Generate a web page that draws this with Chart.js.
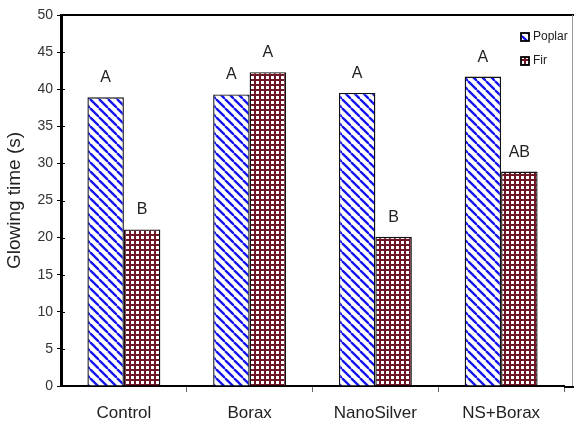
<!DOCTYPE html>
<html lang="en">
<head>
  <meta charset="UTF-8">
  <title>Glowing time</title>
  <script src="https://cdn.jsdelivr.net/npm/chart.js"></script>
  <style>
    html, body { margin: 0; padding: 0; background: #fff; }
  </style>
</head>
<body>
  <canvas id="glowChart" width="574" height="427"></canvas>

  <script>
    // data
    const treatments = ['Control', 'Borax', 'NanoSilver', 'NS+Borax'];
    const poplar = [38.9, 39.3, 39.5, 41.7];
    const fir = [21.1, 42.3, 20.1, 28.9];
    const poplarLetters = ['A', 'A', 'A', 'A'];
    const firLetters = ['B', 'A', 'B', 'AB'];
    const yTicks = [0, 5, 10, 15, 20, 25, 30, 35, 40, 45, 50];

    const FONT = '"Liberation Sans", Arial, sans-serif';

    // hatch fills
    function stripePattern() {
      const s = 9;
      const c = document.createElement('canvas');
      c.width = s; c.height = s;
      const g = c.getContext('2d');
      g.fillStyle = '#fff';
      g.fillRect(0, 0, s, s);
      g.strokeStyle = '#1414f0';
      g.lineWidth = 2.3;
      for (const k of [-s, 0, s]) {
        g.beginPath();
        g.moveTo(k, 0);
        g.lineTo(k + s, s);
        g.stroke();
      }
      return g.createPattern(c, 'repeat');
    }

    function gridPattern() {
      const c = document.createElement('canvas');
      c.width = 5; c.height = 5;
      const g = c.getContext('2d');
      g.fillStyle = '#6e1626';
      g.fillRect(0, 0, 5, 5);
      g.fillStyle = '#fff';
      g.fillRect(1, 1, 3, 3);
      return g.createPattern(c, 'repeat');
    }

    const poplarFill = stripePattern();
    const firFill = gridPattern();

    // letters above bars, legend box and the rest of the frame
    const extras = {
      id: 'extras',
      afterDatasetsDraw(chart) {
        const ctx = chart.ctx;
        const area = chart.chartArea;
        const yScale = chart.scales.y;
        ctx.save();
        ctx.fillStyle = '#222';
        ctx.font = '16px ' + FONT;
        ctx.textAlign = 'center';
        ctx.textBaseline = 'alphabetic';
        const letters = [poplarLetters, firLetters];
        chart.data.datasets.forEach((ds, i) => {
          chart.getDatasetMeta(i).data.forEach((bar, j) => {
            ctx.fillText(letters[i][j], bar.x, bar.y - 15);
          });
        });

        // inner half of the y tick crosses
        ctx.strokeStyle = '#000';
        ctx.lineWidth = 1;
        yTicks.forEach(v => {
          const y = Math.round(yScale.getPixelForValue(v)) + 0.5;
          ctx.beginPath();
          ctx.moveTo(area.left, y);
          ctx.lineTo(area.left + 4, y);
          ctx.stroke();
        });

        // frame: top edge, right edge, axis run-out
        ctx.lineWidth = 2;
        ctx.beginPath();
        ctx.moveTo(area.left - 1, area.top);
        ctx.lineTo(chart.width, area.top);
        ctx.stroke();
        ctx.beginPath();
        ctx.moveTo(area.right, area.bottom + 1);
        ctx.lineTo(chart.width, area.bottom + 1);
        ctx.stroke();
        ctx.strokeStyle = '#999';
        ctx.lineWidth = 1;
        ctx.beginPath();
        ctx.moveTo(area.right + 8.5, area.top);
        ctx.lineTo(area.right + 8.5, area.bottom);
        ctx.stroke();

        // legend
        const items = [['Poplar', poplarFill], ['Fir', firFill]];
        ctx.font = '12px ' + FONT;
        ctx.textAlign = 'left';
        ctx.textBaseline = 'middle';
        items.forEach((it, k) => {
          const y = area.top + 22 + k * 24;
          const x = area.right - 43;
          ctx.fillStyle = it[1];
          ctx.fillRect(x, y - 4, 8, 8);
          ctx.strokeStyle = '#000';
          ctx.lineWidth = 1.8;
          ctx.strokeRect(x, y - 4, 8, 8);
          ctx.fillStyle = '#222';
          ctx.fillText(it[0], x + 12, y);
        });
        ctx.restore();
      }
    };

    const ctx = document.getElementById('glowChart').getContext('2d');
    new Chart(ctx, {
      type: 'bar',
      data: {
        labels: treatments,
        datasets: [
          {
            label: 'Poplar',
            data: poplar,
            backgroundColor: poplarFill,
            borderColor: '#111',
            borderWidth: 1.4
          },
          {
            label: 'Fir',
            data: fir,
            backgroundColor: firFill,
            borderColor: '#111',
            borderWidth: 1.4
          }
        ]
      },
      options: {
        responsive: false,
        animation: false,
        layout: { padding: { top: 15, right: 10, left: 0, bottom: 0 } },
        datasets: {
          bar: { categoryPercentage: 0.58, barPercentage: 1 }
        },
        plugins: {
          legend: { display: false },
          tooltip: { enabled: false }
        },
        scales: {
          x: {
            grid: {
              offset: true,
              drawOnChartArea: false,
              tickLength: 6,
              color: (c) => (c.index === 0 || c.index === treatments.length) ? 'rgba(0,0,0,0)' : '#666'
            },
            border: { color: '#000', width: 2 },
            ticks: {
              color: '#222',
              font: { family: FONT, size: 17 },
              padding: 11
            },
            afterFit(scale) { scale.height = 41; }
          },
          y: {
            min: 0,
            max: 50,
            afterBuildTicks(scale) {
              scale.ticks = yTicks.map(v => ({ value: v }));
            },
            grid: {
              drawOnChartArea: false,
              tickLength: 4,
              color: '#000'
            },
            border: { color: '#000', width: 3 },
            ticks: {
              color: '#333',
              font: { family: FONT, size: 14 },
              padding: 4
            },
            title: {
              display: true,
              text: 'Glowing time (s)',
              color: '#222',
              font: { family: FONT, size: 19 },
              padding: { top: 3, bottom: 0 }
            },
            afterFit(scale) { scale.width = 61; }
          }
        }
      },
      plugins: [extras]
    });
  </script>
</body>
</html>
